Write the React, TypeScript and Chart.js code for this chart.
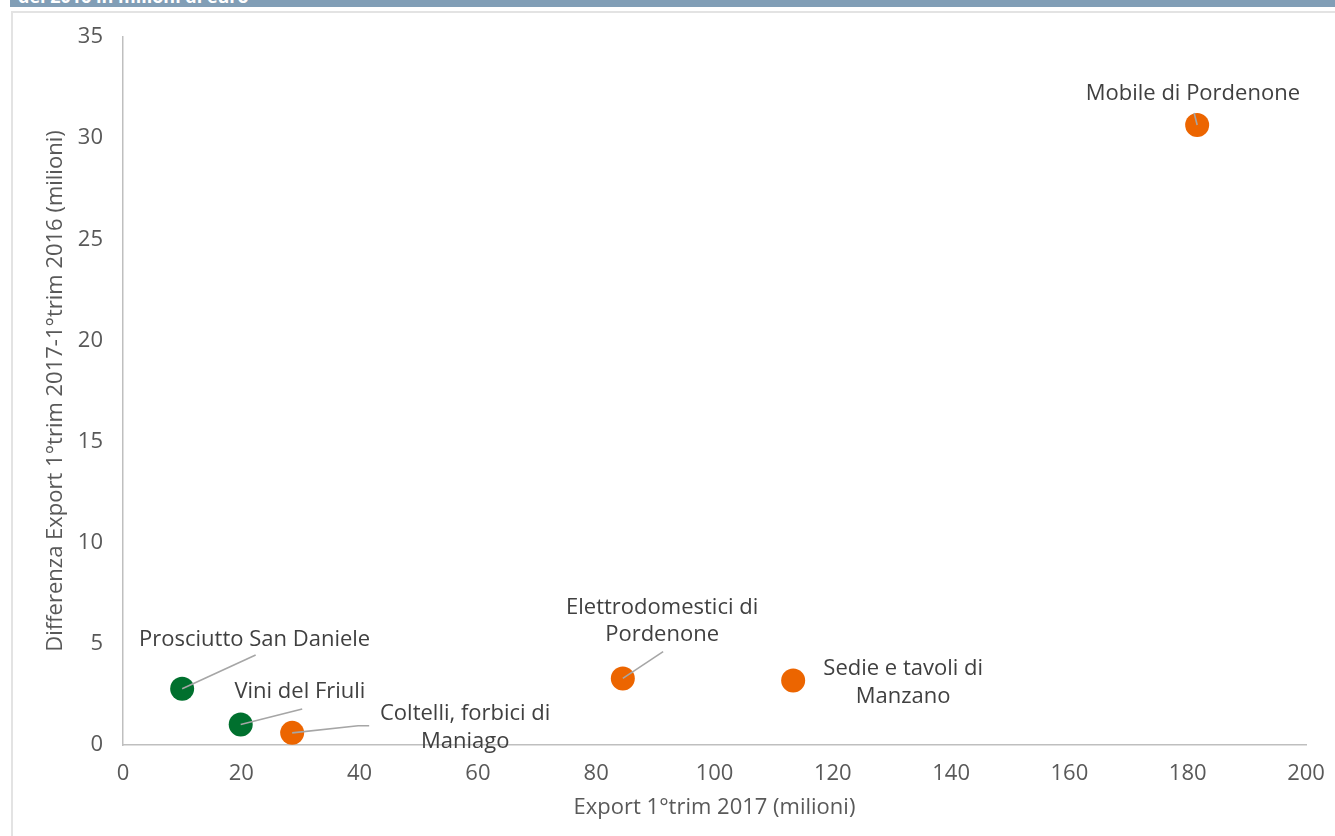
import React, { useEffect, useRef } from "react";
import { Chart, registerables } from "chart.js";

Chart.register(...registerables);

// ---- Data ----
const districts = [
  "Prosciutto San Daniele",
  "Vini del Friuli",
  "Coltelli, forbici di Maniago",
  "Elettrodomestici di Pordenone",
  "Sedie e tavoli di Manzano",
  "Mobile di Pordenone",
];
const labelLines = [
  ["Prosciutto San Daniele"],
  ["Vini del Friuli"],
  ["Coltelli, forbici di", "Maniago"],
  ["Elettrodomestici di", "Pordenone"],
  ["Sedie e tavoli di", "Manzano"],
  ["Mobile di Pordenone"],
];
const export2017 = [10.0, 19.9, 28.6, 84.5, 113.3, 181.6];
const diff2017vs2016 = [2.78, 1.01, 0.6, 3.29, 3.19, 30.65];
const sector = ["agro", "agro", "sistema", "sistema", "sistema", "sistema"];
const xTickValues = [0, 20, 40, 60, 80, 100, 120, 140, 160, 180, 200];
const yTickValues = [0, 5, 10, 15, 20, 25, 30, 35];

const xTitle = "Export 1°trim 2017 (milioni)";
const yTitle = "Differenza Export 1°trim 2017-1°trim 2016 (milioni)";
const headerText = "del 2016 in milioni di euro";

// ---- Styles ----
const sectorColor: Record<string, string> = { agro: "#00702E", sistema: "#EC6500" };
const FONT = '"Open Sans", "Noto Sans", sans-serif';
// label placement relative to point pixel (first line centre), leader polyline points
const labelLayout = [
  { dx: 72.5, dy: -48.7, leader: [[73.5, -33.7]] },
  { dx: 59.2, dy: -33.1, leader: [[61.5, -15.5]] },
  { dx: 173, dy: -18.7, leader: [[66, -7.1], [77, -7.1]] },
  { dx: 39.3, dy: -71.1, leader: [[40.3, -26.8]] },
  { dx: 110, dy: -11.4, leader: [] as number[][] },
  { dx: -4.3, dy: -31, leader: [[-3, -12]] },
];
const LINE_SPACING = 27.8;

const labelPlugin = {
  id: "districtLabels",
  afterDatasetsDraw(chart: any) {
    const ctx = chart.ctx as CanvasRenderingContext2D;
    const meta = chart.getDatasetMeta(0);
    meta.data.forEach((el: any, i: number) => {
      const { x, y } = el.getProps(["x", "y"], true);
      const lay = labelLayout[i];
      ctx.save();
      if (lay.leader.length) {
        ctx.strokeStyle = "#A6A6A6";
        ctx.lineWidth = 1.6;
        ctx.beginPath();
        ctx.moveTo(x, y);
        lay.leader.forEach(([ldx, ldy]) => ctx.lineTo(x + ldx, y + ldy));
        ctx.stroke();
      }
      ctx.fillStyle = "#404040";
      ctx.font = `22px ${FONT}`;
      ctx.textAlign = "center";
      ctx.textBaseline = "middle";
      labelLines[i].forEach((t, k) => {
        ctx.fillText(t, x + lay.dx, y + lay.dy + k * LINE_SPACING);
      });
      ctx.restore();
    });
  },
};

export default function App() {
  const canvasRef = useRef<HTMLCanvasElement | null>(null);

  useEffect(() => {
    if (!canvasRef.current) return;
    const chart = new Chart(canvasRef.current, {
      type: "scatter",
      data: {
        datasets: [
          {
            label: "Distretti",
            data: export2017.map((v, i) => ({ x: v, y: diff2017vs2016[i] })),
            backgroundColor: sector.map((s) => sectorColor[s]),
            borderWidth: 0,
            pointRadius: 12,
            pointHoverRadius: 12,
          },
        ],
      },
      options: {
        animation: false,
        responsive: false,
        devicePixelRatio: 1,
        events: [],
        layout: { padding: { left: 0, right: 29, top: 37, bottom: 0 } },
        plugins: {
          legend: { display: false },
          tooltip: { enabled: false },
        },
        scales: {
          x: {
            type: "linear",
            min: 0,
            max: 200,
            afterFit: (s: any) => {
              s.height = 91;
              s.paddingLeft = 0;
              s.paddingRight = 0;
            },
            afterBuildTicks: (s: any) => {
              s.ticks = xTickValues.map((v) => ({ value: v }));
            },
            grid: { display: false, drawTicks: false, tickLength: 0 },
            border: { display: true, color: "#BFBFBF", width: 1.5 },
            ticks: {
              color: "#595959",
              font: { family: FONT, size: 22, lineHeight: 1.2 },
              padding: 16,
              maxRotation: 0,
            },
            title: {
              display: true,
              text: xTitle,
              color: "#595959",
              font: { family: FONT, size: 22, lineHeight: 1.2 },
              padding: { top: 0, bottom: 15 },
            },
          },
          y: {
            type: "linear",
            min: 0,
            max: 35,
            afterFit: (s: any) => {
              s.width = 123;
              s.paddingTop = 0;
              s.paddingBottom = 0;
            },
            afterBuildTicks: (s: any) => {
              s.ticks = yTickValues.map((v) => ({ value: v }));
            },
            grid: { display: false, drawTicks: false, tickLength: 0 },
            border: { display: true, color: "#BFBFBF", width: 1.5 },
            ticks: {
              color: "#595959",
              font: { family: FONT, size: 22, lineHeight: 1.2 },
              padding: 20,
            },
            title: {
              display: true,
              text: yTitle,
              color: "#595959",
              font: { family: FONT, size: 22, lineHeight: 1.2 },
              padding: { top: 43, bottom: 0 },
            },
          },
        },
      },
      plugins: [labelPlugin],
    });
    return () => chart.destroy();
  }, []);

  return (
    <div
      style={{
        position: "absolute",
        left: 0,
        top: 0,
        width: 1335,
        height: 836,
        overflow: "hidden",
        background: "#FFFFFF",
      }}
    >
      <div
        style={{
          position: "absolute",
          left: 10,
          top: 0,
          width: 1325,
          height: 7,
          background: "#819EB6",
          overflow: "hidden",
        }}
      >
        <span
          style={{
            position: "absolute",
            left: 8,
            top: -13,
            color: "#FFFFFF",
            fontFamily: FONT,
            fontWeight: 700,
            fontSize: 18,
            lineHeight: "18px",
            whiteSpace: "nowrap",
          }}
        >
          {headerText}
        </span>
      </div>
      <div
        style={{
          position: "absolute",
          left: 11,
          top: 11,
          width: 1340,
          height: 840,
          borderLeft: "2px solid #E3E3E3",
          borderTop: "2px solid #E3E3E3",
        }}
      />
      <canvas
        ref={canvasRef}
        width={1335}
        height={836}
        style={{ position: "absolute", left: 0, top: 0, width: 1335, height: 836 }}
      />
    </div>
  );
}
